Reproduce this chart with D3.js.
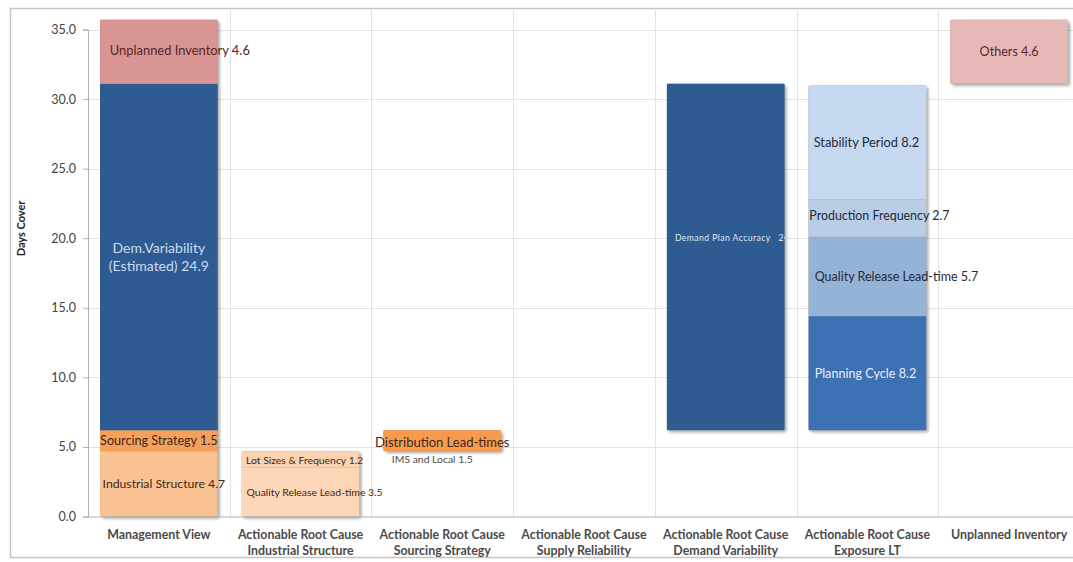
<!DOCTYPE html>
<html>
<head>
<meta charset="utf-8">
<script src="https://cdn.jsdelivr.net/npm/d3@7"></script>
<style>
  html, body { margin: 0; padding: 0; background: #fff; }
  svg { display: block; font-family: Lato, "Open Sans", "Liberation Sans", sans-serif; }
</style>
</head>
<body>
<svg id="chart" width="1073" height="562"></svg>
<script>
// Category labels (one entry per line)
const categories = [
  ["Management View"],
  ["Actionable Root Cause", "Industrial Structure"],
  ["Actionable Root Cause", "Sourcing Strategy"],
  ["Actionable Root Cause", "Supply Reliability"],
  ["Actionable Root Cause", "Demand Variability"],
  ["Actionable Root Cause", "Exposure LT"],
  ["Unplanned Inventory"]
];

const yTicks = [0, 5, 10, 15, 20, 25, 30, 35];

// Segments of each column, bottom to top (days cover)
const managementView = [
  { name: "Industrial Structure", value: 4.7 },
  { name: "Sourcing Strategy", value: 1.5 },
  { name: "Dem.Variability (Estimated)", value: 24.9 },
  { name: "Unplanned Inventory", value: 4.6 }
];
const industrialStructure = [
  { name: "Quality Release Lead-time", value: 3.5 },
  { name: "Lot Sizes & Frequency", value: 1.2 }
];
const sourcingStrategy = [
  { name: "Distribution Lead-times IMS and Local", value: 1.5 }
];
const supplyReliability = [];
const demandVariability = [
  { name: "Demand Plan Accuracy", value: 24.9 }
];
const exposureLT = [
  { name: "Planning Cycle", value: 8.2 },
  { name: "Quality Release Lead-time", value: 5.7 },
  { name: "Production Frequency", value: 2.7 },
  { name: "Stability Period", value: 8.2 }
];
const unplannedInventory = [
  { name: "Others", value: 4.6 }
];

// Invisible base under each column (waterfall offset)
const columnBase = [0, 0, 4.7, 6.2, 6.2, 6.2, 31.1];

const columns = [managementView, industrialStructure, sourcingStrategy,
  supplyReliability, demandVariability, exposureLT, unplannedInventory];

// Fill colours per column segment
const fills = [
  ["#fac292", "#f7a05c", "#2f5b93", "#d99594"],
  ["#fcd6b6", "#fcd3b0"],
  ["#f79a4e"],
  [],
  ["#2f5b93"],
  ["#3e70b4", "#95b3d7", "#b9cde5", "#c6d9f1"],
  ["#e6b8b7"]
];

// Data label styling: lines, x offset from column centre, y offset from segment middle
const labelStyle = [
  [
    { lines: ["Industrial Structure 4.7"], dx: 5, dy: 0, size: 12.2, color: "#3a2a1c" },
    { lines: ["Sourcing Strategy 1.5"], dx: 0, dy: 0, size: 12.6, color: "#3a2a1c" },
    { lines: ["Dem.Variability", "(Estimated) 24.9"], dx: 0, dy: 0, size: 14, color: "#c9daf0", lh: 18 },
    { lines: ["Unplanned Inventory 4.6"], dx: 21, dy: -1, size: 12.9, color: "#5a2424" }
  ],
  [
    { lines: ["Quality Release Lead-time 3.5"], dx: 14, dy: 0, size: 10.4, color: "#3a2a1c" },
    { lines: ["Lot Sizes & Frequency 1.2"], dx: 4, dy: 1, size: 10.4, color: "#3a2a1c" }
  ],
  [
    { lines: ["Distribution Lead-times", "IMS and Local 1.5"], dx: 0, dy: 10, size: 13, color: "#3a2a1c", lh: 17, sub: [-10, -10], subSize: 10.4, subColor: "#4a4a4a" }
  ],
  [],
  [
    { lines: ["Demand Plan Accuracy   24.9"], dx: 0, dy: -19, size: 8.6, color: "#dfe8f4", clip: true, start: 8, spacing: "0.45px" }
  ],
  [
    { lines: ["Planning Cycle 8.2"], dx: -2, dy: 0, size: 12.6, color: "#e6edf7" },
    { lines: ["Quality Release Lead-time 5.7"], dx: 29, dy: 0, size: 12.5, color: "#1f2a3a" },
    { lines: ["Production Frequency 2.7"], dx: 12, dy: -2, size: 12.4, color: "#1f2a3a" },
    { lines: ["Stability Period 8.2"], dx: -1, dy: 0, size: 12.8, color: "#1f2a3a" }
  ],
  [
    { lines: ["Others 4.6"], dx: 0, dy: 0, size: 12.6, color: "#5a2a2a" }
  ]
];

const svg = d3.select("#chart");
const margin = { left: 88, top: 29.5, right: 1080, bottom: 516.5 };

// Chart frame
svg.append("rect")
  .attr("x", 10.5).attr("y", 8.5)
  .attr("width", 1080).attr("height", 549)
  .attr("fill", "none").attr("stroke", "#c4c4c4").attr("stroke-width", 1.5);

const y = d3.scaleLinear().domain([0, 35]).range([margin.bottom, margin.top]);
const x = d3.scaleBand()
  .domain(d3.range(categories.length))
  .range([margin.left, margin.right])
  .paddingInner(0).paddingOuter(0);
const barW = x.bandwidth() * 0.83;

const defs = svg.append("defs");
defs.append("filter").attr("id", "shadow")
  .attr("x", "-10%").attr("y", "-10%").attr("width", "130%").attr("height", "130%")
  .append("feDropShadow")
  .attr("dx", 2).attr("dy", 2).attr("stdDeviation", 1.6)
  .attr("flood-color", "#000").attr("flood-opacity", 0.35);

// Horizontal gridlines
svg.append("g").selectAll("line")
  .data(yTicks.slice(1))
  .join("line")
  .attr("x1", margin.left).attr("x2", margin.right)
  .attr("y1", d => Math.round(y(d)) + 0.5).attr("y2", d => Math.round(y(d)) + 0.5)
  .attr("stroke", "#e2e2e2");

// Vertical category separators
svg.append("g").selectAll("line")
  .data(d3.range(1, categories.length))
  .join("line")
  .attr("x1", d => Math.round(x(d)) + 0.5).attr("x2", d => Math.round(x(d)) + 0.5)
  .attr("y1", margin.top - 21).attr("y2", margin.bottom)
  .attr("stroke", "#e2e2e2");

// Flatten segments with stacked positions
const segments = [];
columns.forEach((col, ci) => {
  let acc = columnBase[ci];
  col.forEach((s, si) => {
    segments.push({ ci, si, name: s.name, value: s.value, y0: acc, y1: acc + s.value,
      fill: fills[ci][si], label: labelStyle[ci][si] });
    acc += s.value;
  });
});

// Column outlines (for shadow), one per column
const colExtents = columns.map((col, ci) => {
  const segs = segments.filter(s => s.ci === ci);
  if (!segs.length) return null;
  return { ci, y0: d3.min(segs, s => s.y0), y1: d3.max(segs, s => s.y1) };
}).filter(Boolean);

const barX = ci => x(ci) + (x.bandwidth() - barW) / 2;

svg.append("g").attr("filter", "url(#shadow)")
  .selectAll("rect")
  .data(colExtents)
  .join("rect")
  .attr("x", d => barX(d.ci))
  .attr("y", d => y(d.y1))
  .attr("width", barW)
  .attr("height", d => y(d.y0) - y(d.y1))
  .attr("rx", 2)
  .attr("fill", "#888");

svg.append("g").selectAll("rect")
  .data(segments)
  .join("rect")
  .attr("x", d => barX(d.ci))
  .attr("y", d => y(d.y1))
  .attr("width", barW)
  .attr("height", d => y(d.y0) - y(d.y1))
  .attr("fill", d => d.fill);

// Clip for labels that are cut by their bar
segments.forEach((d, i) => {
  if (d.label && d.label.clip) {
    defs.append("clipPath").attr("id", "clip" + i)
      .append("rect")
      .attr("x", barX(d.ci)).attr("y", y(d.y1))
      .attr("width", barW + 1).attr("height", y(d.y0) - y(d.y1));
  }
});

// Axes
const yAxis = d3.axisLeft(y).tickValues(yTicks).tickFormat(d3.format(".1f")).tickSize(5).tickPadding(7);
const gy = svg.append("g").attr("transform", `translate(${margin.left},0)`).call(yAxis);
gy.select(".domain").attr("stroke", "#b0b0b0");
gy.selectAll(".tick line").attr("stroke", "#b0b0b0");
gy.selectAll(".tick text").attr("fill", "#444").attr("font-size", 12.5)
  .attr("font-family", "Lato, sans-serif");

svg.append("line")
  .attr("x1", margin.left).attr("x2", margin.right)
  .attr("y1", y(0) + 0.5).attr("y2", y(0) + 0.5)
  .attr("stroke", "#b0b0b0");

// Category labels
const gx = svg.append("g");
categories.forEach((lines, i) => {
  const t = gx.append("text")
    .attr("y", 539)
    .attr("text-anchor", "middle")
    .attr("font-size", 12.4)
    .attr("font-weight", 700)
    .attr("fill", "#4a4a4a");
  lines.forEach((l, li) => {
    t.append("tspan").attr("x", x(i) + x.bandwidth() / 2).attr("dy", li ? 16 : 0).text(l);
  });
});

// Axis title
svg.append("text")
  .attr("transform", `translate(25,${y(20.7)}) rotate(-90)`)
  .attr("text-anchor", "middle")
  .attr("font-size", 11)
  .attr("font-weight", 700)
  .attr("fill", "#222")
  .text("Days Cover");

// Data labels
segments.forEach((d, i) => {
  const L = d.label;
  if (!L) return;
  const cx = L.start !== undefined ? barX(d.ci) + L.start : x(d.ci) + x.bandwidth() / 2 + L.dx;
  const cy = y((d.y0 + d.y1) / 2) + L.dy;
  const lh = L.lh || 14;
  const n = L.lines.length;
  const g = svg.append("g");
  if (L.clip) g.attr("clip-path", `url(#clip${i})`);
  L.lines.forEach((line, li) => {
    const sub = li > 0 && L.sub;
    g.append("text")
      .attr("x", cx + (sub ? L.sub[0] : 0))
      .attr("y", cy + (li - (n - 1) / 2) * lh + (sub ? L.sub[1] + 10 : 0))
      .attr("dy", "0.35em")
      .attr("text-anchor", L.start !== undefined ? "start" : "middle")
      .attr("font-size", sub ? L.subSize : L.size)
      .attr("fill", sub ? L.subColor : L.color)
      .attr("letter-spacing", L.spacing || null)
      .attr("xml:space", "preserve")
      .style("white-space", "pre")
      .text(line);
  });
});
</script>
</body>
</html>
